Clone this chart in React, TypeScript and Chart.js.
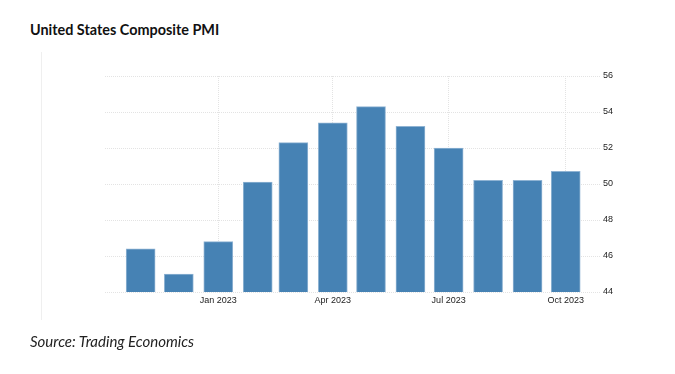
import React, { useEffect, useRef } from "react";
import { Chart, registerables } from "chart.js";

Chart.register(...registerables);

const months: string[] = [
  "2022-11", "2022-12", "2023-01", "2023-02", "2023-03", "2023-04",
  "2023-05", "2023-06", "2023-07", "2023-08", "2023-09", "2023-10",
];
const pmiValues: number[] = [46.4, 45.0, 46.8, 50.1, 52.3, 53.4, 54.3, 53.2, 52.0, 50.2, 50.2, 50.7];
const xTickMonths: string[] = ["2023-01", "2023-04", "2023-07", "2023-10"];
const xTickLabels: string[] = ["Jan 2023", "Apr 2023", "Jul 2023", "Oct 2023"];
const xRangeStart = "2022-10-04";
const xRangeEnd = "2023-10-24";
const yTicks: number[] = [44, 46, 48, 50, 52, 54, 56];

const DAY = 86400000;
const toDay = (s: string): number => {
  const p = s.split("-").map(Number);
  return Date.UTC(p[0], p[1] - 1, p[2] || 1) / DAY;
};

export default function App() {
  const ref = useRef<HTMLCanvasElement | null>(null);
  useEffect(() => {
    if (!ref.current) return;
    const tickDays = xTickMonths.map(toDay);
    const chart = new Chart(ref.current, {
      type: "bar",
      data: {
        datasets: [
          {
            data: months.map((m, i) => ({ x: toDay(m), y: pmiValues[i] })),
            backgroundColor: "#4682b4",
            borderColor: "#8fb3d3",
            borderWidth: 1,
            barThickness: 29,
          },
        ],
      },
      options: {
        animation: false,
        responsive: false,
        maintainAspectRatio: false,
        layout: { padding: { left: 105, top: 76, right: 50, bottom: 62 } },
        plugins: { legend: { display: false }, tooltip: { enabled: false } },
        scales: {
          x: {
            type: "linear",
            offset: false,
            min: toDay(xRangeStart),
            max: toDay(xRangeEnd),
            afterBuildTicks: (scale: any) => {
              scale.ticks = tickDays.map((v) => ({ value: v }));
            },
            afterFit: (scale: any) => {
              scale.height = 20;
            },
            ticks: {
              autoSkip: false,
              maxRotation: 0,
              padding: 3,
              color: "#222",
              font: { family: "'Liberation Sans', Arial, sans-serif", size: 9 },
              callback: (v: any) => {
                const i = tickDays.indexOf(Number(v));
                return i >= 0 ? xTickLabels[i] : "";
              },
            },
            grid: { offset: false, color: "#e3e3e3", drawTicks: false, lineWidth: 1 },
            border: { display: false, dash: [1, 1] },
          },
          y: {
            position: "right",
            min: yTicks[0],
            max: yTicks[yTicks.length - 1],
            afterBuildTicks: (scale: any) => {
              scale.ticks = yTicks.map((v) => ({ value: v }));
            },
            afterFit: (scale: any) => {
              scale.width = 30;
            },
            ticks: {
              padding: 2,
              color: "#222",
              font: { family: "'Liberation Sans', Arial, sans-serif", size: 9 },
            },
            grid: {
              color: "#e3e3e3",
              tickLength: 6,
              tickColor: "#e3e3e3",
              tickBorderDash: [1, 1],
            },
            border: { display: false, dash: [1, 1] },
          },
        },
      },
    });
    return () => chart.destroy();
  }, []);

  return (
    <div style={{ position: "fixed", left: 0, top: 0, width: 675, height: 374, background: "#fff", overflow: "hidden" }}>
      <div
        style={{
          position: "absolute",
          left: 30,
          top: 21,
          fontFamily: "Lato, 'Open Sans', sans-serif",
          fontWeight: 700,
          fontSize: 14.4,
          color: "#111",
          whiteSpace: "nowrap",
        }}
      >
        United States Composite PMI
      </div>
      <div style={{ position: "absolute", left: 41, top: 52, width: 1, height: 268, background: "#efefef" }} />
      <canvas ref={ref} width={675} height={374} style={{ position: "absolute", left: 0, top: 0 }} />
      <div
        style={{
          position: "absolute",
          left: 30,
          top: 332,
          fontFamily: "Lato, 'Open Sans', sans-serif",
          fontStyle: "italic",
          fontSize: 15,
          color: "#222",
          whiteSpace: "nowrap",
        }}
      >
        Source: Trading Economics
      </div>
    </div>
  );
}
